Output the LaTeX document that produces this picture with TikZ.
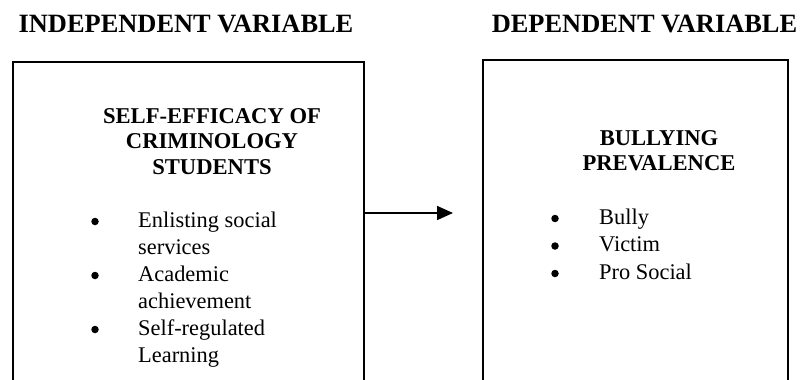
\documentclass[tikz,border=0pt]{standalone}
\usepackage{fontspec}
\setmainfont{Liberation Serif}
\usetikzlibrary{arrows.meta}
\begin{document}
\begin{tikzpicture}[x=1pt,y=-1pt,
  title/.style={font=\fontsize{26.4}{30}\selectfont\bfseries, inner sep=0pt, anchor=base},
  head/.style={font=\fontsize{22.6}{26}\selectfont\bfseries, inner sep=0pt, anchor=base},
  item/.style={font=\fontsize{22.4}{26}\selectfont, inner sep=0pt, anchor=base west},
  dot/.style={circle, fill=black, inner sep=0pt, minimum size=7.5pt},
  frame/.style={draw, line width=1.8pt, inner sep=0pt},
  link/.style={line width=1.6pt, -{Triangle[length=16pt,width=14pt]}}]
\useasboundingbox (0,0) rectangle (803,380);
% titles
\node[title] (t1) at (186,32) {INDEPENDENT VARIABLE};
\node[title] (t2) at (644.5,32) {DEPENDENT VARIABLE};
% boxes (bottom edge lies below the visible area)
\node[frame, minimum width=351pt, minimum height=360pt] (iv) at (188.5,242) {};
\node[frame, minimum width=305pt, minimum height=360pt] (dv) at (635.5,240) {};
% left box content
\node[head] (h1) at (212,123) {SELF-EFFICACY OF};
\node[head] (h2) at (212,148.5) {CRIMINOLOGY};
\node[head] (h3) at (212,174) {STUDENTS};
\node[dot] (b1) at (95,221.5) {};
\node[item] (i1) at (138,227) {Enlisting social};
\node[item] (i1b) at (138,254) {services};
\node[dot] (b2) at (95,275.5) {};
\node[item] (i2) at (138,281) {Academic};
\node[item] (i2b) at (138,308) {achievement};
\node[dot] (b3) at (95,329.5) {};
\node[item] (i3) at (138,335) {Self-regulated};
\node[item] (i3b) at (138,362) {Learning};
% right box content
\node[head] (g1) at (659,145) {BULLYING};
\node[head] (g2) at (659,170) {PREVALENCE};
\node[dot] (c1) at (555,218.5) {};
\node[item] (j1) at (599,224) {Bully};
\node[dot] (c2) at (555,246) {};
\node[item] (j2) at (599,251.5) {Victim};
\node[dot] (c3) at (555,273.5) {};
\node[item] (j3) at (599,279) {Pro Social};
% arrow
\coordinate (tip) at (453,213);
\draw[link] (iv.east |- tip) -- (tip);
\end{tikzpicture}
\end{document}
